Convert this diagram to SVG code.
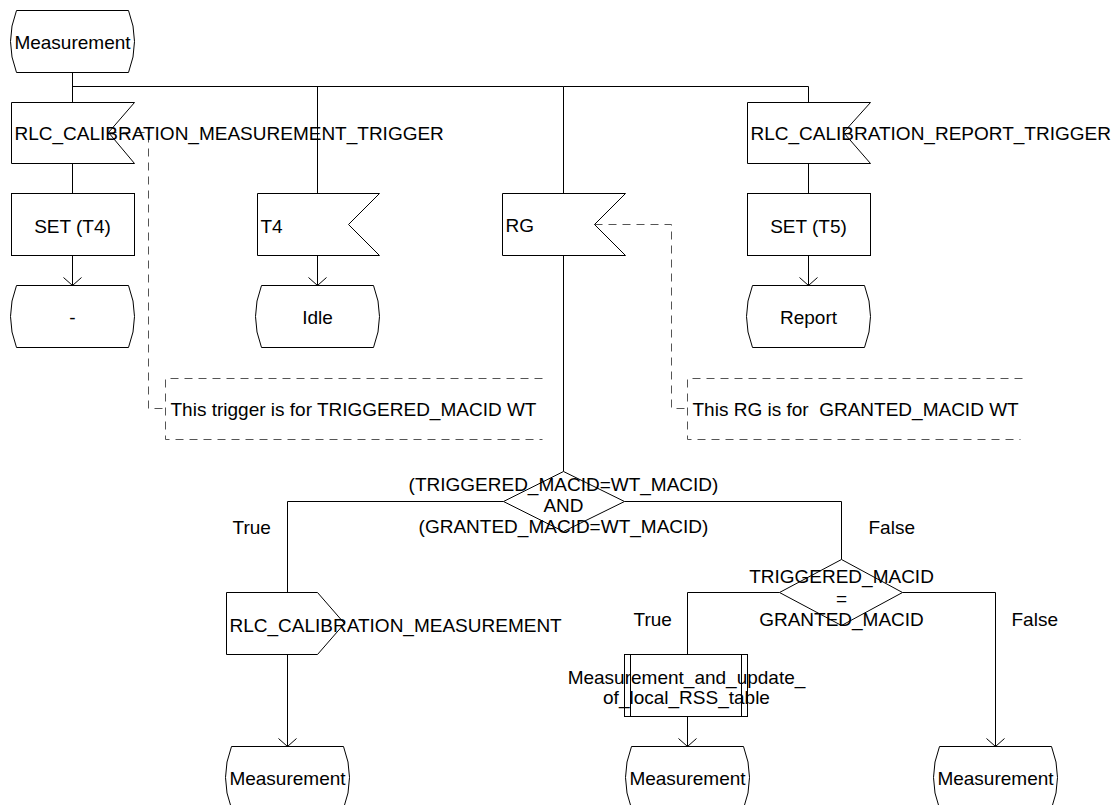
<svg xmlns="http://www.w3.org/2000/svg" width="1117" height="805" viewBox="0 0 1117 805">
<style>
.s{fill:#fff;stroke:#000;stroke-width:1}
.ln{fill:none;stroke:#000;stroke-width:1}
.d{fill:none;stroke:#555;stroke-width:1;stroke-dasharray:8 6}
.t{font-family:"Liberation Sans",Arial,sans-serif;font-size:19px;fill:#000}
.c{text-anchor:middle}
</style>
<defs>
<marker id="arr" markerUnits="userSpaceOnUse" orient="auto" refX="0" refY="0" markerWidth="20" markerHeight="20" viewBox="-10 -10 20 20" overflow="visible">
<path d="M-8,-9 L0,0 L-8,9" fill="none" stroke="#000" stroke-width="1"/>
</marker>
</defs>
<rect x="0" y="0" width="1117" height="805" fill="#fff"/>
<g transform="translate(0.5,0.5)">
<g id="connectors">
<path class="ln" d="M72,72 V102"/>
<path class="ln" d="M72,86 H563" stroke-width="2"/>
<path class="ln" d="M563,86 H808"/>
<path class="ln" d="M317,86 V193"/>
<path class="ln" d="M563,86 V193"/>
<path class="ln" d="M808,86 V102"/>
<path class="ln" d="M72,163 V193"/>
<path class="ln" d="M808,163 V193"/>
<path class="ln" d="M72,255 V285" marker-end="url(#arr)"/>
<path class="ln" d="M317,255 V285" marker-end="url(#arr)"/>
<path class="ln" d="M808,255 V285" marker-end="url(#arr)"/>
<path class="ln" d="M563,255 V471"/>
<path class="ln" d="M503,501 H287 V592"/>
<path class="ln" d="M624,501 H841 V559"/>
<path class="ln" d="M287,654 V746" marker-end="url(#arr)"/>
<path class="ln" d="M779,592 H687 V654"/>
<path class="ln" d="M902,592 H995 V746" marker-end="url(#arr)"/>
<path class="ln" d="M687,716 V746" marker-end="url(#arr)"/>
<path class="d" d="M108,132 H148 V408 H165"/>
<path class="d" d="M594,224 H671 V408 H687"/>
</g>
<g id="start">
<path class="s" d="M16,10 H128 Q140,41 128,72 H16 Q4,41 16,10 Z"/>
<text class="t c" x="72" y="48">Measurement</text>
</g>
<g id="trigger1">
<polygon class="s" points="11,102 134,102 108,132 134,163 11,163"/>
<text class="t" x="14" y="139">RLC_CALIBRATION_MEASUREMENT_TRIGGER</text>
</g>
<g id="setT4">
<rect class="s" x="11" y="193" width="123" height="62"/>
<text class="t c" x="72" y="232">SET (T4)</text>
</g>
<g id="stateDash">
<path class="s" d="M16,285 H128 Q140,316 128,347 H16 Q4,316 16,285 Z"/>
<text class="t c" x="72" y="323">-</text>
</g>
<g id="t4">
<polygon class="s" points="257,193 379,193 348,224 379,255 257,255"/>
<text class="t" x="260" y="232">T4</text>
</g>
<g id="idle">
<path class="s" d="M261,285 H373 Q385,316 373,347 H261 Q249,316 261,285 Z"/>
<text class="t c" x="317" y="323">Idle</text>
</g>
<g id="rg">
<polygon class="s" points="502,193 625,193 594,224 625,255 502,255"/>
<text class="t" x="505" y="231">RG</text>
</g>
<g id="trigger2">
<polygon class="s" points="747,102 870,102 843,132 870,163 747,163"/>
<text class="t" x="750" y="139">RLC_CALIBRATION_REPORT_TRIGGER</text>
</g>
<g id="setT5">
<rect class="s" x="747" y="193" width="123" height="62"/>
<text class="t c" x="808" y="232">SET (T5)</text>
</g>
<g id="report">
<path class="s" d="M752,285 H864 Q876,316 864,347 H752 Q740,316 752,285 Z"/>
<text class="t c" x="808" y="323">Report</text>
</g>
<g id="comment1">
<path class="d" d="M542,378 H165 V439 H542"/>
<text class="t" x="170" y="415">This trigger is for TRIGGERED_MACID WT</text>
</g>
<g id="comment2">
<path class="d" d="M1022,378 H687 V439 H1020"/>
<text class="t" x="692" y="415" xml:space="preserve">This RG is for  GRANTED_MACID WT</text>
</g>
<g id="decision1">
<polygon class="s" points="563,471 624,501 563,531 503,501"/>
<text class="t c" x="563" y="490">(TRIGGERED_MACID=WT_MACID)</text>
<text class="t c" x="563" y="511">AND</text>
<text class="t c" x="563" y="532">(GRANTED_MACID=WT_MACID)</text>
</g>
<g id="labels1">
<text class="t" x="232" y="533">True</text>
<text class="t" x="868" y="533">False</text>
</g>
<g id="decision2">
<polygon class="s" points="841,559 902,592 841,625 779,592"/>
<text class="t c" x="841" y="582">TRIGGERED_MACID</text>
<text class="t c" x="841" y="604">=</text>
<text class="t c" x="841" y="625">GRANTED_MACID</text>
</g>
<g id="labels2">
<text class="t" x="633" y="625">True</text>
<text class="t" x="1011" y="625">False</text>
</g>
<g id="output">
<polygon class="s" points="226,592 317,592 344,623 317,654 226,654"/>
<text class="t" x="229" y="631">RLC_CALIBRATION_MEASUREMENT</text>
</g>
<g id="procedure">
<rect class="s" x="624" y="654" width="123" height="62"/>
<path class="ln" d="M630,654 V716 M741,654 V716"/>
<text class="t c" x="686" y="683">Measurement_and_update_</text>
<text class="t c" x="686" y="703">of_local_RSS_table</text>
</g>
<g id="end1">
<path class="s" d="M231,746 H343 Q355,777 343,808 H231 Q219,777 231,746 Z"/>
<text class="t c" x="287" y="784">Measurement</text>
</g>
<g id="end2">
<path class="s" d="M631,746 H743 Q755,777 743,808 H631 Q619,777 631,746 Z"/>
<text class="t c" x="687" y="784">Measurement</text>
</g>
<g id="end3">
<path class="s" d="M939,746 H1051 Q1063,777 1051,808 H939 Q927,777 939,746 Z"/>
<text class="t c" x="995" y="784">Measurement</text>
</g>
</g>
</svg>
